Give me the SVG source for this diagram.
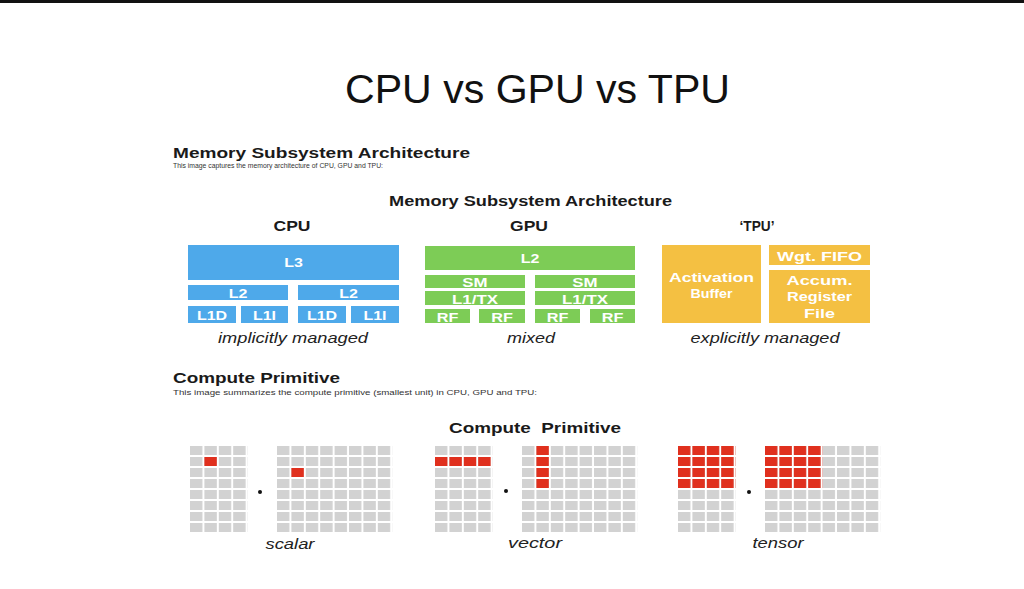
<svg xmlns="http://www.w3.org/2000/svg" width="1024" height="589" viewBox="0 0 1024 589">
<style>
text{font-family:"Liberation Sans",Arial,sans-serif;}
.title{font-size:41px;fill:#111;}
.h{font-size:14px;font-weight:bold;fill:#1a1a1a;}
.sub{font-size:7px;fill:#333;}
.col{font-size:14px;font-weight:bold;fill:#1a1a1a;text-anchor:middle;}
.cap{font-size:14px;font-style:italic;fill:#222;text-anchor:middle;}
.bx{font-size:12.5px;font-weight:bold;fill:#fff;text-anchor:middle;}
.tx{font-size:13px;font-weight:bold;fill:#fff;text-anchor:middle;}
.blue{fill:#4ea9ea;}
.green{fill:#7dcc56;}
.yellow{fill:#f4c042;}
.red{fill:#e0301e;}
</style>
<defs>
<pattern id="cells" width="14.4" height="11" patternUnits="userSpaceOnUse"><rect width="12.4" height="9" fill="#d2d2d2"/></pattern>
<pattern id="rcells" width="14.4" height="11" patternUnits="userSpaceOnUse"><rect width="12.4" height="9" fill="#e0301e"/></pattern>
<g id="g4"><rect width="57.6" height="88" fill="url(#cells)"/></g>
<g id="g8"><rect width="115.2" height="88" fill="url(#cells)"/></g>
<g id="r4"><rect width="57.6" height="44" fill="url(#rcells)"/></g>
</defs>
<rect width="1024" height="589" fill="#fff"/>
<rect x="0" y="0" width="1024" height="3" fill="#111"/>
<text class="title" x="537.5" y="103" text-anchor="middle" textLength="385" lengthAdjust="spacingAndGlyphs">CPU vs GPU vs TPU</text>

<g id="memory-header">
<text class="h" x="173" y="158" textLength="297" lengthAdjust="spacingAndGlyphs">Memory Subsystem Architecture</text>
<text class="sub" x="173" y="167.5" textLength="210" lengthAdjust="spacingAndGlyphs">This image captures the memory architecture of CPU, GPU and TPU:</text>
<text class="h" x="389" y="206" textLength="283" lengthAdjust="spacingAndGlyphs">Memory Subsystem Architecture</text>
</g>

<g id="cpu">
<text class="col" x="292" y="231" textLength="37" lengthAdjust="spacingAndGlyphs">CPU</text>
<rect class="blue" x="188" y="245" width="211" height="35"/>
<rect class="blue" x="188" y="285" width="100" height="15"/>
<rect class="blue" x="298" y="285" width="101" height="15"/>
<rect class="blue" x="188" y="306" width="48" height="17"/>
<rect class="blue" x="241" y="306" width="47" height="17"/>
<rect class="blue" x="298" y="306" width="48" height="17"/>
<rect class="blue" x="351" y="306" width="48" height="17"/>
<text class="bx" transform="matrix(1.28 0 0 1 293.5 267)">L3</text>
<text class="bx" transform="matrix(1.28 0 0 1 238 298)">L2</text>
<text class="bx" transform="matrix(1.28 0 0 1 348.5 298)">L2</text>
<text class="bx" transform="matrix(1.28 0 0 1 212 320)">L1D</text>
<text class="bx" transform="matrix(1.28 0 0 1 264.5 320)">L1I</text>
<text class="bx" transform="matrix(1.28 0 0 1 322 320)">L1D</text>
<text class="bx" transform="matrix(1.28 0 0 1 375 320)">L1I</text>
<text class="cap" x="293" y="343" textLength="150" lengthAdjust="spacingAndGlyphs">implicitly managed</text>
</g>

<g id="gpu">
<text class="col" x="529" y="231" textLength="38" lengthAdjust="spacingAndGlyphs">GPU</text>
<rect class="green" x="425" y="246" width="210" height="24"/>
<rect class="green" x="425" y="275" width="100" height="13"/>
<rect class="green" x="535" y="275" width="100" height="13"/>
<rect class="green" x="425" y="291" width="100" height="14"/>
<rect class="green" x="535" y="291" width="100" height="14"/>
<rect class="green" x="425" y="309" width="45" height="14"/>
<rect class="green" x="479" y="309" width="46" height="14"/>
<rect class="green" x="535" y="309" width="45" height="14"/>
<rect class="green" x="590" y="309" width="45" height="14"/>
<text class="bx" transform="matrix(1.28 0 0 1 530 263)">L2</text>
<text class="bx" transform="matrix(1.35 0 0 1 475 287)">SM</text>
<text class="bx" transform="matrix(1.35 0 0 1 585 287)">SM</text>
<text class="bx" transform="matrix(1.35 0 0 1 475 304)">L1/TX</text>
<text class="bx" transform="matrix(1.35 0 0 1 585 304)">L1/TX</text>
<text class="bx" transform="matrix(1.3 0 0 1 447.5 322)">RF</text>
<text class="bx" transform="matrix(1.3 0 0 1 502 322)">RF</text>
<text class="bx" transform="matrix(1.3 0 0 1 557.5 322)">RF</text>
<text class="bx" transform="matrix(1.3 0 0 1 612.5 322)">RF</text>
<text class="cap" x="531" y="343" textLength="48" lengthAdjust="spacingAndGlyphs">mixed</text>
</g>

<g id="tpu">
<text class="col" x="757" y="231" textLength="35" lengthAdjust="spacingAndGlyphs">‘TPU’</text>
<rect class="yellow" x="662" y="245" width="99" height="78"/>
<rect class="yellow" x="769" y="245" width="101" height="20"/>
<rect class="yellow" x="769" y="270" width="101" height="53"/>
<text class="tx" x="711.5" y="282" textLength="85" lengthAdjust="spacingAndGlyphs">Activation</text>
<text class="tx" x="711.5" y="298" textLength="42" lengthAdjust="spacingAndGlyphs">Buffer</text>
<text class="tx" x="819.5" y="261" textLength="85" lengthAdjust="spacingAndGlyphs">Wgt. FIFO</text>
<text class="tx" x="819.5" y="285" textLength="66" lengthAdjust="spacingAndGlyphs">Accum.</text>
<text class="tx" x="819.5" y="301" textLength="65" lengthAdjust="spacingAndGlyphs">Register</text>
<text class="tx" x="819.5" y="318" textLength="31" lengthAdjust="spacingAndGlyphs">File</text>
<text class="cap" x="765" y="343" textLength="149" lengthAdjust="spacingAndGlyphs">explicitly managed</text>
</g>

<g id="compute-header">
<text class="h" x="173" y="383" textLength="167" lengthAdjust="spacingAndGlyphs">Compute Primitive</text>
<text class="sub" x="173" y="395" textLength="364" lengthAdjust="spacingAndGlyphs">This image summarizes the compute primitive (smallest unit) in CPU, GPU and TPU:</text>
<text class="col" x="535" y="433" textLength="172" lengthAdjust="spacingAndGlyphs" xml:space="preserve">Compute  Primitive</text>
</g>

<g id="scalar">
<use href="#g4" x="190" y="446"/>
<use href="#g8" x="277" y="446"/>
<rect class="red" x="204.4" y="457" width="12.4" height="9"/>
<rect class="red" x="291.4" y="468" width="12.4" height="9"/>
<circle cx="260" cy="492" r="2" fill="#111"/>
<text class="cap" x="290" y="549" textLength="49" lengthAdjust="spacingAndGlyphs">scalar</text>
</g>

<g id="vector">
<use href="#g4" x="435" y="446"/>
<use href="#g8" x="522" y="446"/>
<rect class="red" x="435" y="457" width="12.4" height="9"/>
<rect class="red" x="449.4" y="457" width="12.4" height="9"/>
<rect class="red" x="463.8" y="457" width="12.4" height="9"/>
<rect class="red" x="478.2" y="457" width="12.4" height="9"/>
<rect class="red" x="536.4" y="446" width="12.4" height="9"/>
<rect class="red" x="536.4" y="457" width="12.4" height="9"/>
<rect class="red" x="536.4" y="468" width="12.4" height="9"/>
<rect class="red" x="536.4" y="479" width="12.4" height="9"/>
<circle cx="506" cy="491" r="2" fill="#111"/>
<text class="cap" x="535" y="548" textLength="54" lengthAdjust="spacingAndGlyphs">vector</text>
</g>

<g id="tensor">
<use href="#g4" x="678" y="446"/>
<use href="#g8" x="765" y="446"/>
<use href="#r4" x="678" y="446"/>
<use href="#r4" x="765" y="446"/>
<circle cx="749" cy="492" r="2" fill="#111"/>
<text class="cap" x="778" y="548" textLength="51" lengthAdjust="spacingAndGlyphs">tensor</text>
</g>
</svg>
